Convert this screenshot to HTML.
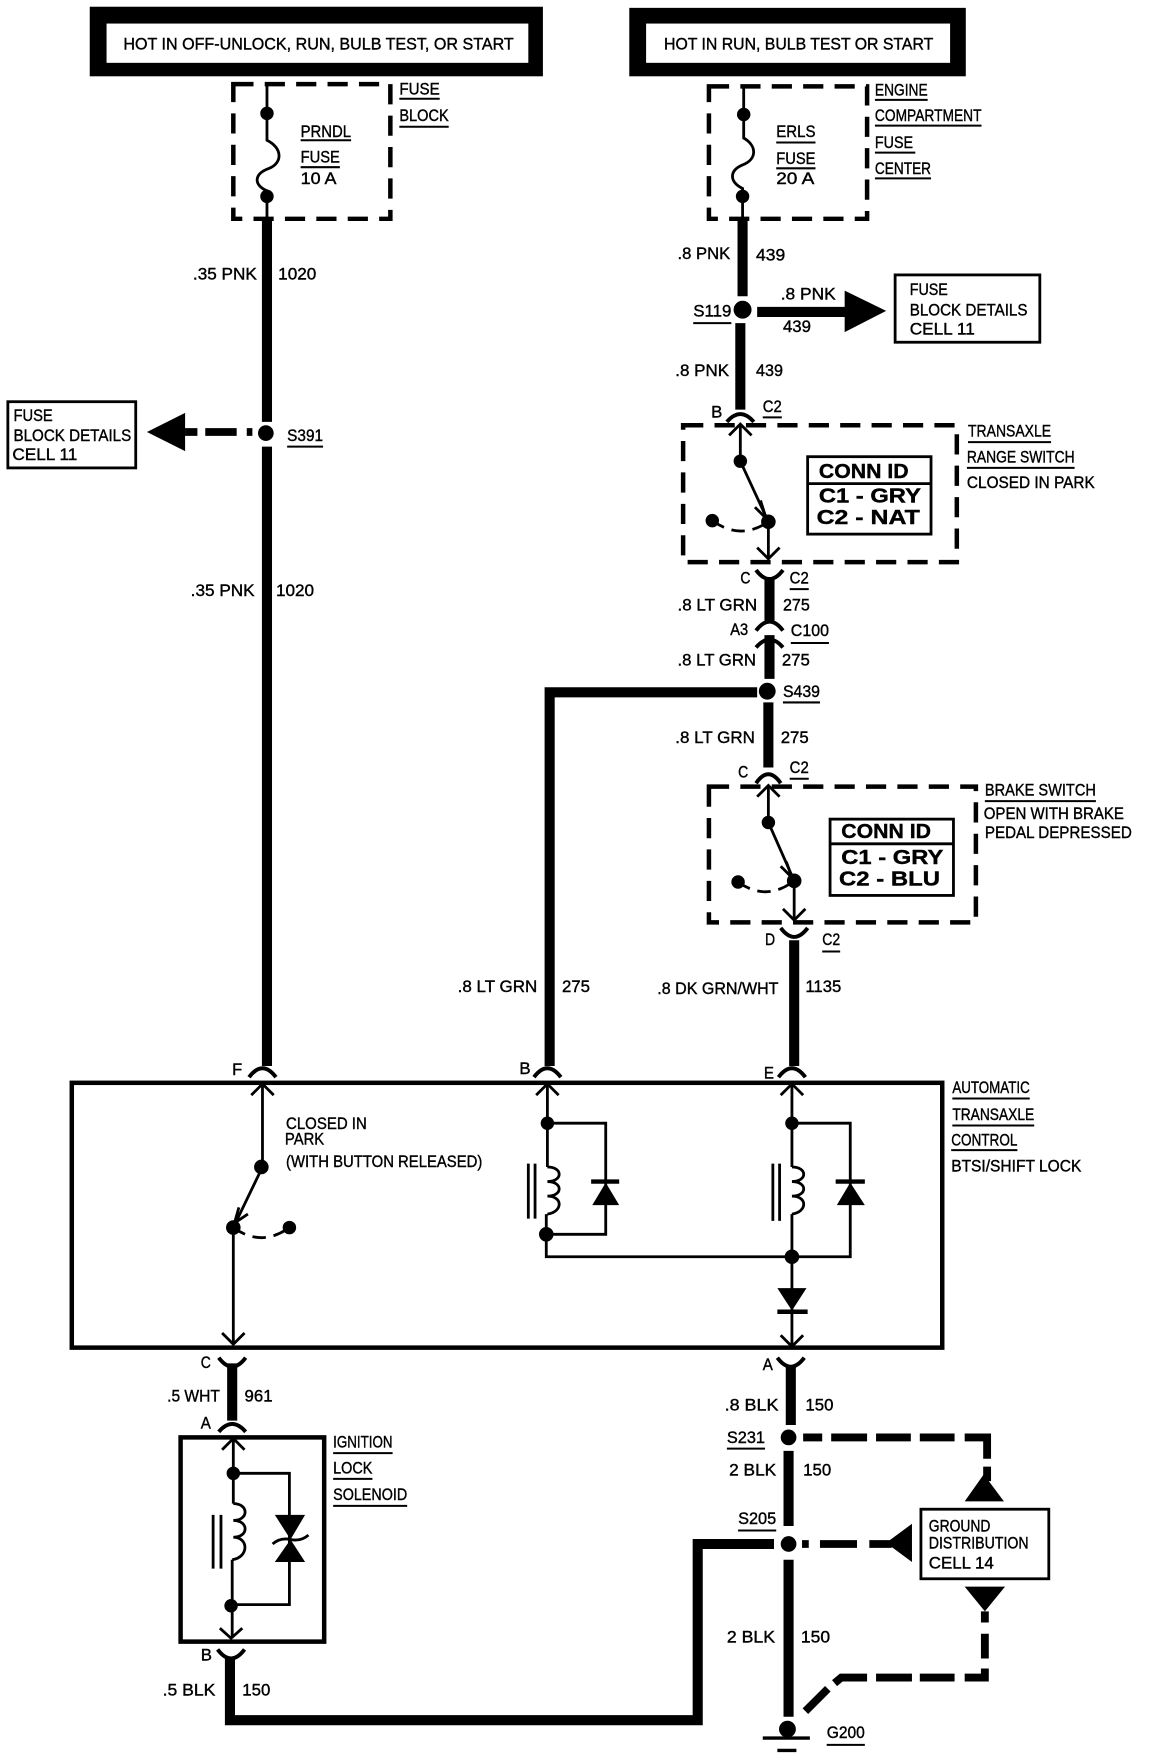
<!DOCTYPE html>
<html><head><meta charset="utf-8"><style>
html,body{margin:0;padding:0;background:#fff}
svg{display:block}
text{font-family:"Liberation Sans",sans-serif;font-size:15px;fill:#000;stroke:#000;stroke-width:.35}
.b{font-weight:bold;font-size:18px}
</style></head><body>
<svg width="1152" height="1760" viewBox="0 0 1027 1568.5" preserveAspectRatio="none" xmlns="http://www.w3.org/2000/svg">
<rect width="1027" height="1569" fill="#fff"/>
<!-- banners -->
<rect x="80" y="6" width="404" height="62" fill="#000"/><rect x="95" y="21" width="376" height="35" fill="#fff"/>
<rect x="561" y="7" width="300" height="61" fill="#000"/><rect x="576" y="21" width="271" height="35" fill="#fff"/>
<!-- dashed boxes -->
<g stroke-width="4" stroke-dasharray="18 10" fill="none" stroke="#000">
<rect x="208" y="75" width="140" height="120"/>
<rect x="632" y="77" width="141" height="118"/>
<rect x="609" y="379" width="244" height="122"/>
<rect x="632" y="701" width="238" height="121"/>
</g>
<!-- solid boxes -->
<g fill="none" stroke="#000">
<rect x="64" y="965" width="776" height="236" stroke-width="4"/>
<rect x="161" y="1281" width="128" height="182" stroke-width="4"/>
<rect x="7" y="358" width="114" height="59" stroke-width="2.5"/>
<rect x="798" y="245" width="129" height="60" stroke-width="2.5"/>
<rect x="821" y="1345" width="114" height="62" stroke-width="2.5"/>
<rect x="720" y="407" width="110" height="69" stroke-width="2.5"/><path d="M720 431H830" stroke-width="2.5"/>
<rect x="740" y="730" width="110" height="68" stroke-width="2.5"/><path d="M740 752H850" stroke-width="2.5"/>
</g>
<!-- thick wires -->
<g fill="none" stroke="#000" stroke-width="9">
<path d="M238 194V376M238 398V950"/>
<path d="M662 195V264M660 288V365"/>
<path d="M675 278H756"/>
<path d="M686 515V553M686 566V605M685 626V684"/>
<path d="M675 617H490V950"/>
<path d="M708 838V950"/>
<path d="M207 1215V1266"/>
<path d="M205 1478V1533H622V1376H690"/>
<path d="M705 1218V1270M703 1293V1360M703 1390V1530"/>
</g>
<!-- thick dashed -->
<g fill="none" stroke="#000" stroke-width="7">
<path d="M176 385H165M211 385H183M225 385H220"/>
<path d="M716 1281H733M741 1281H773M781 1281H812M820 1281H851M860 1281H880V1300M880 1307V1320"/>
<path d="M715 1376H721M731 1376H764M775 1376H795"/>
<path d="M878 1436V1446M878 1456V1478M878 1487V1495H860M851 1495H820M813 1495H781M773 1495H750L744 1500M738 1505L718 1525"/>
</g>
<!-- triangles -->
<g fill="#000" stroke="none">
<path d="M131 385L165 368V402Z"/>
<path d="M790 277L753 259V296Z"/>
<path d="M877 1314L860 1338H895Z"/>
<path d="M790 1375L813 1358V1392Z"/>
<path d="M860 1414H896L878 1436Z"/>
<path d="M540 1054L528 1074H552Z"/>
<path d="M758 1054L746 1074H771Z"/>
<path d="M693 1148H719L706 1168Z"/>
<path d="M245 1350H272L259 1372Z"/>
<path d="M259 1372L245 1392H272Z"/>
</g>
<!-- thin wires -->
<g fill="none" stroke="#000" stroke-width="2.5">
<path d="M238 76V125C252 132 252 145 240 150C226 155 226 165 238 170V194"/>
<path d="M663 78V123C675 130 675 142 662 147C650 152 650 162 662 168V195"/>
<path d="M660 378V411L685 465V498"/>
<path d="M650 388L660 378L670 388M675 488L685 498L695 488"/>
<path d="M678 446L683 462L673 452"/>
<path d="M635 464Q660 482 685 465" stroke-dasharray="12 7"/>
<path d="M685 700V733L708 785V820"/>
<path d="M675 710L685 700L695 710M698 810L708 820L718 810"/>
<path d="M701 768L706 782L696 772"/>
<path d="M658 786Q683 804 708 785" stroke-dasharray="12 7"/>
<path d="M234 966V1040L208 1094V1198"/>
<path d="M224 976L234 966L244 976M198 1188L208 1198L218 1188"/>
<path d="M213 1076L209 1090L221 1082"/>
<path d="M208 1094Q233 1112 258 1094" stroke-dasharray="12 7"/>
<path d="M488 966V1040M487 1082V1120H758V1001H706M488 1001H540V1100H487"/>
<path d="M478 976L488 966L498 976M696 976L706 966L716 976"/>
<path d="M488 1040C502 1040 502 1053 488 1053C502 1053 502 1066 488 1066C502 1066 502 1080 488 1082"/>
<path d="M471 1037V1086M477 1037V1086"/>
<path d="M706 966V1040M706 1082V1200M696 1190L706 1200L716 1190"/>
<path d="M706 1040C720 1040 720 1053 706 1053C720 1053 720 1066 706 1066C720 1066 720 1080 706 1082"/>
<path d="M689 1037V1088M695 1037V1088"/>
<path d="M527 1053H552M745 1053H771M693 1169H720" stroke-width="4"/>
<path d="M208 1282V1340M207 1390V1460M198 1292L208 1282L218 1292M196 1451L206 1460L216 1451"/>
<path d="M208 1313H258V1430H206"/>
<path d="M208 1340C222 1340 222 1355 208 1355C222 1355 222 1370 208 1370C222 1370 222 1388 207 1390"/>
<path d="M190 1350V1398M197 1350V1398"/>
<path d="M243 1376Q250 1370 259 1372T275 1368"/>
<path d="M680 1549H722M693 1560H710" stroke-width="3"/>
<path stroke-width="3.5" d="M648 376Q660 362 672 376M674 562Q686 546 698 562M674 577Q686 563 698 577M674 698Q685 682 696 698M222 960Q234 944 246 960M476 960Q488 944 500 960M694 960Q706 944 718 960M195 1276Q207 1262 219 1276"/>
<path stroke-width="3.5" d="M674 508Q686 524 698 508M696 827Q708 843 720 827M195 1210Q207 1226 219 1210M194 1470Q206 1486 218 1470M693 1210Q705 1226 717 1210"/>
<path stroke-width="1.8" d="M268 125H313M268 149H303M356 88H392M356 113H400M256 398H288M780 89H827M780 112H875M780 136H816M780 159H830M692 127H727M692 150H727M618 288H652M680 372H697M863 394H937M862 417H958M704 525H721M705 573H739M698 626H731M704 694H721M733 848H749M878 714H977M849 979H918M849 1003H922M848 1025H907M297 1295H350M297 1318H332M297 1342H363M648 1291H682M658 1364H692M737 1555H771"/>
</g>
<!-- dots -->
<g fill="#000">
<circle cx="238" cy="101" r="6"/><circle cx="238" cy="175" r="6"/><circle cx="237" cy="386" r="7"/>
<circle cx="663" cy="102" r="6"/><circle cx="662" cy="175" r="6"/><circle cx="662" cy="276" r="8"/>
<circle cx="660" cy="411" r="6"/><circle cx="685" cy="465" r="6.5"/><circle cx="635" cy="464" r="6"/>
<circle cx="684" cy="616" r="7.5"/>
<circle cx="685" cy="733" r="6"/><circle cx="708" cy="785" r="6.5"/><circle cx="658" cy="786" r="6"/>
<circle cx="233" cy="1040" r="6.5"/><circle cx="208" cy="1094" r="6.5"/><circle cx="258" cy="1094" r="6"/>
<circle cx="488" cy="1001" r="6"/><circle cx="487" cy="1100" r="6.5"/>
<circle cx="706" cy="1001" r="6"/><circle cx="706" cy="1120" r="6.5"/>
<circle cx="208" cy="1313" r="6"/><circle cx="206" cy="1431" r="6"/>
<circle cx="703" cy="1281" r="7"/><circle cx="703" cy="1376" r="7"/><circle cx="702" cy="1541" r="7.5"/>
</g>
<!-- text -->
<text x="110" y="44" textLength="348" lengthAdjust="spacingAndGlyphs">HOT IN OFF-UNLOCK, RUN, BULB TEST, OR START</text>
<text x="592" y="44" textLength="240" lengthAdjust="spacingAndGlyphs">HOT IN RUN, BULB TEST OR START</text>
<text x="268" y="122" textLength="45" lengthAdjust="spacingAndGlyphs">PRNDL</text>
<text x="268" y="145" textLength="35" lengthAdjust="spacingAndGlyphs">FUSE</text>
<text x="268" y="164" textLength="32" lengthAdjust="spacingAndGlyphs">10 A</text>
<text x="356" y="84" textLength="36" lengthAdjust="spacingAndGlyphs">FUSE</text>
<text x="356" y="108" textLength="44" lengthAdjust="spacingAndGlyphs">BLOCK</text>
<text x="172" y="249" textLength="57" lengthAdjust="spacingAndGlyphs">.35 PNK</text>
<text x="248" y="249" textLength="34" lengthAdjust="spacingAndGlyphs">1020</text>
<text x="12" y="375" textLength="35" lengthAdjust="spacingAndGlyphs">FUSE</text>
<text x="12" y="393" textLength="105" lengthAdjust="spacingAndGlyphs">BLOCK DETAILS</text>
<text x="11" y="410" textLength="58" lengthAdjust="spacingAndGlyphs">CELL 11</text>
<text x="256" y="393" textLength="32" lengthAdjust="spacingAndGlyphs">S391</text>
<text x="170" y="531" textLength="57" lengthAdjust="spacingAndGlyphs">.35 PNK</text>
<text x="246" y="531" textLength="34" lengthAdjust="spacingAndGlyphs">1020</text>
<text x="692" y="122" textLength="35" lengthAdjust="spacingAndGlyphs">ERLS</text>
<text x="692" y="146" textLength="35" lengthAdjust="spacingAndGlyphs">FUSE</text>
<text x="692" y="164" textLength="34" lengthAdjust="spacingAndGlyphs">20 A</text>
<text x="780" y="85" textLength="47" lengthAdjust="spacingAndGlyphs">ENGINE</text>
<text x="780" y="108" textLength="95" lengthAdjust="spacingAndGlyphs">COMPARTMENT</text>
<text x="780" y="132" textLength="34" lengthAdjust="spacingAndGlyphs">FUSE</text>
<text x="780" y="155" textLength="50" lengthAdjust="spacingAndGlyphs">CENTER</text>
<text x="604" y="231" textLength="47" lengthAdjust="spacingAndGlyphs">.8 PNK</text>
<text x="674" y="232" textLength="26" lengthAdjust="spacingAndGlyphs">439</text>
<text x="618" y="282" textLength="34" lengthAdjust="spacingAndGlyphs">S119</text>
<text x="696" y="267" textLength="49" lengthAdjust="spacingAndGlyphs">.8 PNK</text>
<text x="698" y="296" textLength="25" lengthAdjust="spacingAndGlyphs">439</text>
<text x="811" y="263" textLength="34" lengthAdjust="spacingAndGlyphs">FUSE</text>
<text x="811" y="281" textLength="105" lengthAdjust="spacingAndGlyphs">BLOCK DETAILS</text>
<text x="811" y="298" textLength="58" lengthAdjust="spacingAndGlyphs">CELL 11</text>
<text x="602" y="335" textLength="48" lengthAdjust="spacingAndGlyphs">.8 PNK</text>
<text x="674" y="335" textLength="24" lengthAdjust="spacingAndGlyphs">439</text>
<text x="634" y="372" textLength="10" lengthAdjust="spacingAndGlyphs">B</text>
<text x="680" y="367" textLength="17" lengthAdjust="spacingAndGlyphs">C2</text>
<text x="863" y="389" textLength="74" lengthAdjust="spacingAndGlyphs">TRANSAXLE</text>
<text x="862" y="412" textLength="96" lengthAdjust="spacingAndGlyphs">RANGE SWITCH</text>
<text x="862" y="435" textLength="114" lengthAdjust="spacingAndGlyphs">CLOSED IN PARK</text>
<text x="730" y="426" class="b" textLength="80" lengthAdjust="spacingAndGlyphs">CONN ID</text>
<text x="730" y="448" class="b" textLength="91" lengthAdjust="spacingAndGlyphs">C1 - GRY</text>
<text x="728" y="467" class="b" textLength="92" lengthAdjust="spacingAndGlyphs">C2 - NAT</text>
<text x="660" y="520" textLength="9" lengthAdjust="spacingAndGlyphs">C</text>
<text x="704" y="520" textLength="17" lengthAdjust="spacingAndGlyphs">C2</text>
<text x="604" y="544" textLength="71" lengthAdjust="spacingAndGlyphs">.8 LT GRN</text>
<text x="698" y="544" textLength="24" lengthAdjust="spacingAndGlyphs">275</text>
<text x="651" y="566" textLength="16" lengthAdjust="spacingAndGlyphs">A3</text>
<text x="705" y="567" textLength="34" lengthAdjust="spacingAndGlyphs">C100</text>
<text x="604" y="593" textLength="70" lengthAdjust="spacingAndGlyphs">.8 LT GRN</text>
<text x="697" y="593" textLength="25" lengthAdjust="spacingAndGlyphs">275</text>
<text x="698" y="621" textLength="33" lengthAdjust="spacingAndGlyphs">S439</text>
<text x="602" y="662" textLength="71" lengthAdjust="spacingAndGlyphs">.8 LT GRN</text>
<text x="696" y="662" textLength="25" lengthAdjust="spacingAndGlyphs">275</text>
<text x="658" y="693" textLength="9" lengthAdjust="spacingAndGlyphs">C</text>
<text x="704" y="689" textLength="17" lengthAdjust="spacingAndGlyphs">C2</text>
<text x="878" y="709" textLength="99" lengthAdjust="spacingAndGlyphs">BRAKE SWITCH</text>
<text x="877" y="730" textLength="125" lengthAdjust="spacingAndGlyphs">OPEN WITH BRAKE</text>
<text x="878" y="747" textLength="131" lengthAdjust="spacingAndGlyphs">PEDAL DEPRESSED</text>
<text x="750" y="747" class="b" textLength="80" lengthAdjust="spacingAndGlyphs">CONN ID</text>
<text x="750" y="770" class="b" textLength="91" lengthAdjust="spacingAndGlyphs">C1 - GRY</text>
<text x="748" y="789" class="b" textLength="90" lengthAdjust="spacingAndGlyphs">C2 - BLU</text>
<text x="682" y="842" textLength="9" lengthAdjust="spacingAndGlyphs">D</text>
<text x="733" y="842" textLength="16" lengthAdjust="spacingAndGlyphs">C2</text>
<text x="408" y="884" textLength="71" lengthAdjust="spacingAndGlyphs">.8 LT GRN</text>
<text x="501" y="884" textLength="25" lengthAdjust="spacingAndGlyphs">275</text>
<text x="586" y="886" textLength="108" lengthAdjust="spacingAndGlyphs">.8 DK GRN/WHT</text>
<text x="718" y="884" textLength="32" lengthAdjust="spacingAndGlyphs">1135</text>
<text x="207" y="958" textLength="9" lengthAdjust="spacingAndGlyphs">F</text>
<text x="463" y="957" textLength="10" lengthAdjust="spacingAndGlyphs">B</text>
<text x="681" y="961" textLength="9" lengthAdjust="spacingAndGlyphs">E</text>
<text x="849" y="974" textLength="69" lengthAdjust="spacingAndGlyphs">AUTOMATIC</text>
<text x="849" y="998" textLength="73" lengthAdjust="spacingAndGlyphs">TRANSAXLE</text>
<text x="848" y="1021" textLength="59" lengthAdjust="spacingAndGlyphs">CONTROL</text>
<text x="848" y="1044" textLength="116" lengthAdjust="spacingAndGlyphs">BTSI/SHIFT LOCK</text>
<text x="255" y="1006" textLength="72" lengthAdjust="spacingAndGlyphs">CLOSED IN</text>
<text x="254" y="1020" textLength="35" lengthAdjust="spacingAndGlyphs">PARK</text>
<text x="255" y="1040" textLength="175" lengthAdjust="spacingAndGlyphs">(WITH BUTTON RELEASED)</text>
<text x="179" y="1219" textLength="9" lengthAdjust="spacingAndGlyphs">C</text>
<text x="149" y="1249" textLength="47" lengthAdjust="spacingAndGlyphs">.5 WHT</text>
<text x="218" y="1249" textLength="25" lengthAdjust="spacingAndGlyphs">961</text>
<text x="179" y="1273" textLength="9" lengthAdjust="spacingAndGlyphs">A</text>
<text x="297" y="1290" textLength="53" lengthAdjust="spacingAndGlyphs">IGNITION</text>
<text x="297" y="1313" textLength="35" lengthAdjust="spacingAndGlyphs">LOCK</text>
<text x="297" y="1337" textLength="66" lengthAdjust="spacingAndGlyphs">SOLENOID</text>
<text x="179" y="1480" textLength="10" lengthAdjust="spacingAndGlyphs">B</text>
<text x="145" y="1511" textLength="47" lengthAdjust="spacingAndGlyphs">.5 BLK</text>
<text x="216" y="1511" textLength="25" lengthAdjust="spacingAndGlyphs">150</text>
<text x="680" y="1221" textLength="9" lengthAdjust="spacingAndGlyphs">A</text>
<text x="646" y="1257" textLength="48" lengthAdjust="spacingAndGlyphs">.8 BLK</text>
<text x="718" y="1257" textLength="25" lengthAdjust="spacingAndGlyphs">150</text>
<text x="648" y="1286" textLength="34" lengthAdjust="spacingAndGlyphs">S231</text>
<text x="650" y="1315" textLength="42" lengthAdjust="spacingAndGlyphs">2 BLK</text>
<text x="716" y="1315" textLength="25" lengthAdjust="spacingAndGlyphs">150</text>
<text x="658" y="1358" textLength="34" lengthAdjust="spacingAndGlyphs">S205</text>
<text x="828" y="1365" textLength="55" lengthAdjust="spacingAndGlyphs">GROUND</text>
<text x="828" y="1380" textLength="89" lengthAdjust="spacingAndGlyphs">DISTRIBUTION</text>
<text x="828" y="1398" textLength="58" lengthAdjust="spacingAndGlyphs">CELL 14</text>
<text x="648" y="1464" textLength="43" lengthAdjust="spacingAndGlyphs">2 BLK</text>
<text x="714" y="1464" textLength="26" lengthAdjust="spacingAndGlyphs">150</text>
<text x="737" y="1549" textLength="34" lengthAdjust="spacingAndGlyphs">G200</text>
</svg>
</body></html>
